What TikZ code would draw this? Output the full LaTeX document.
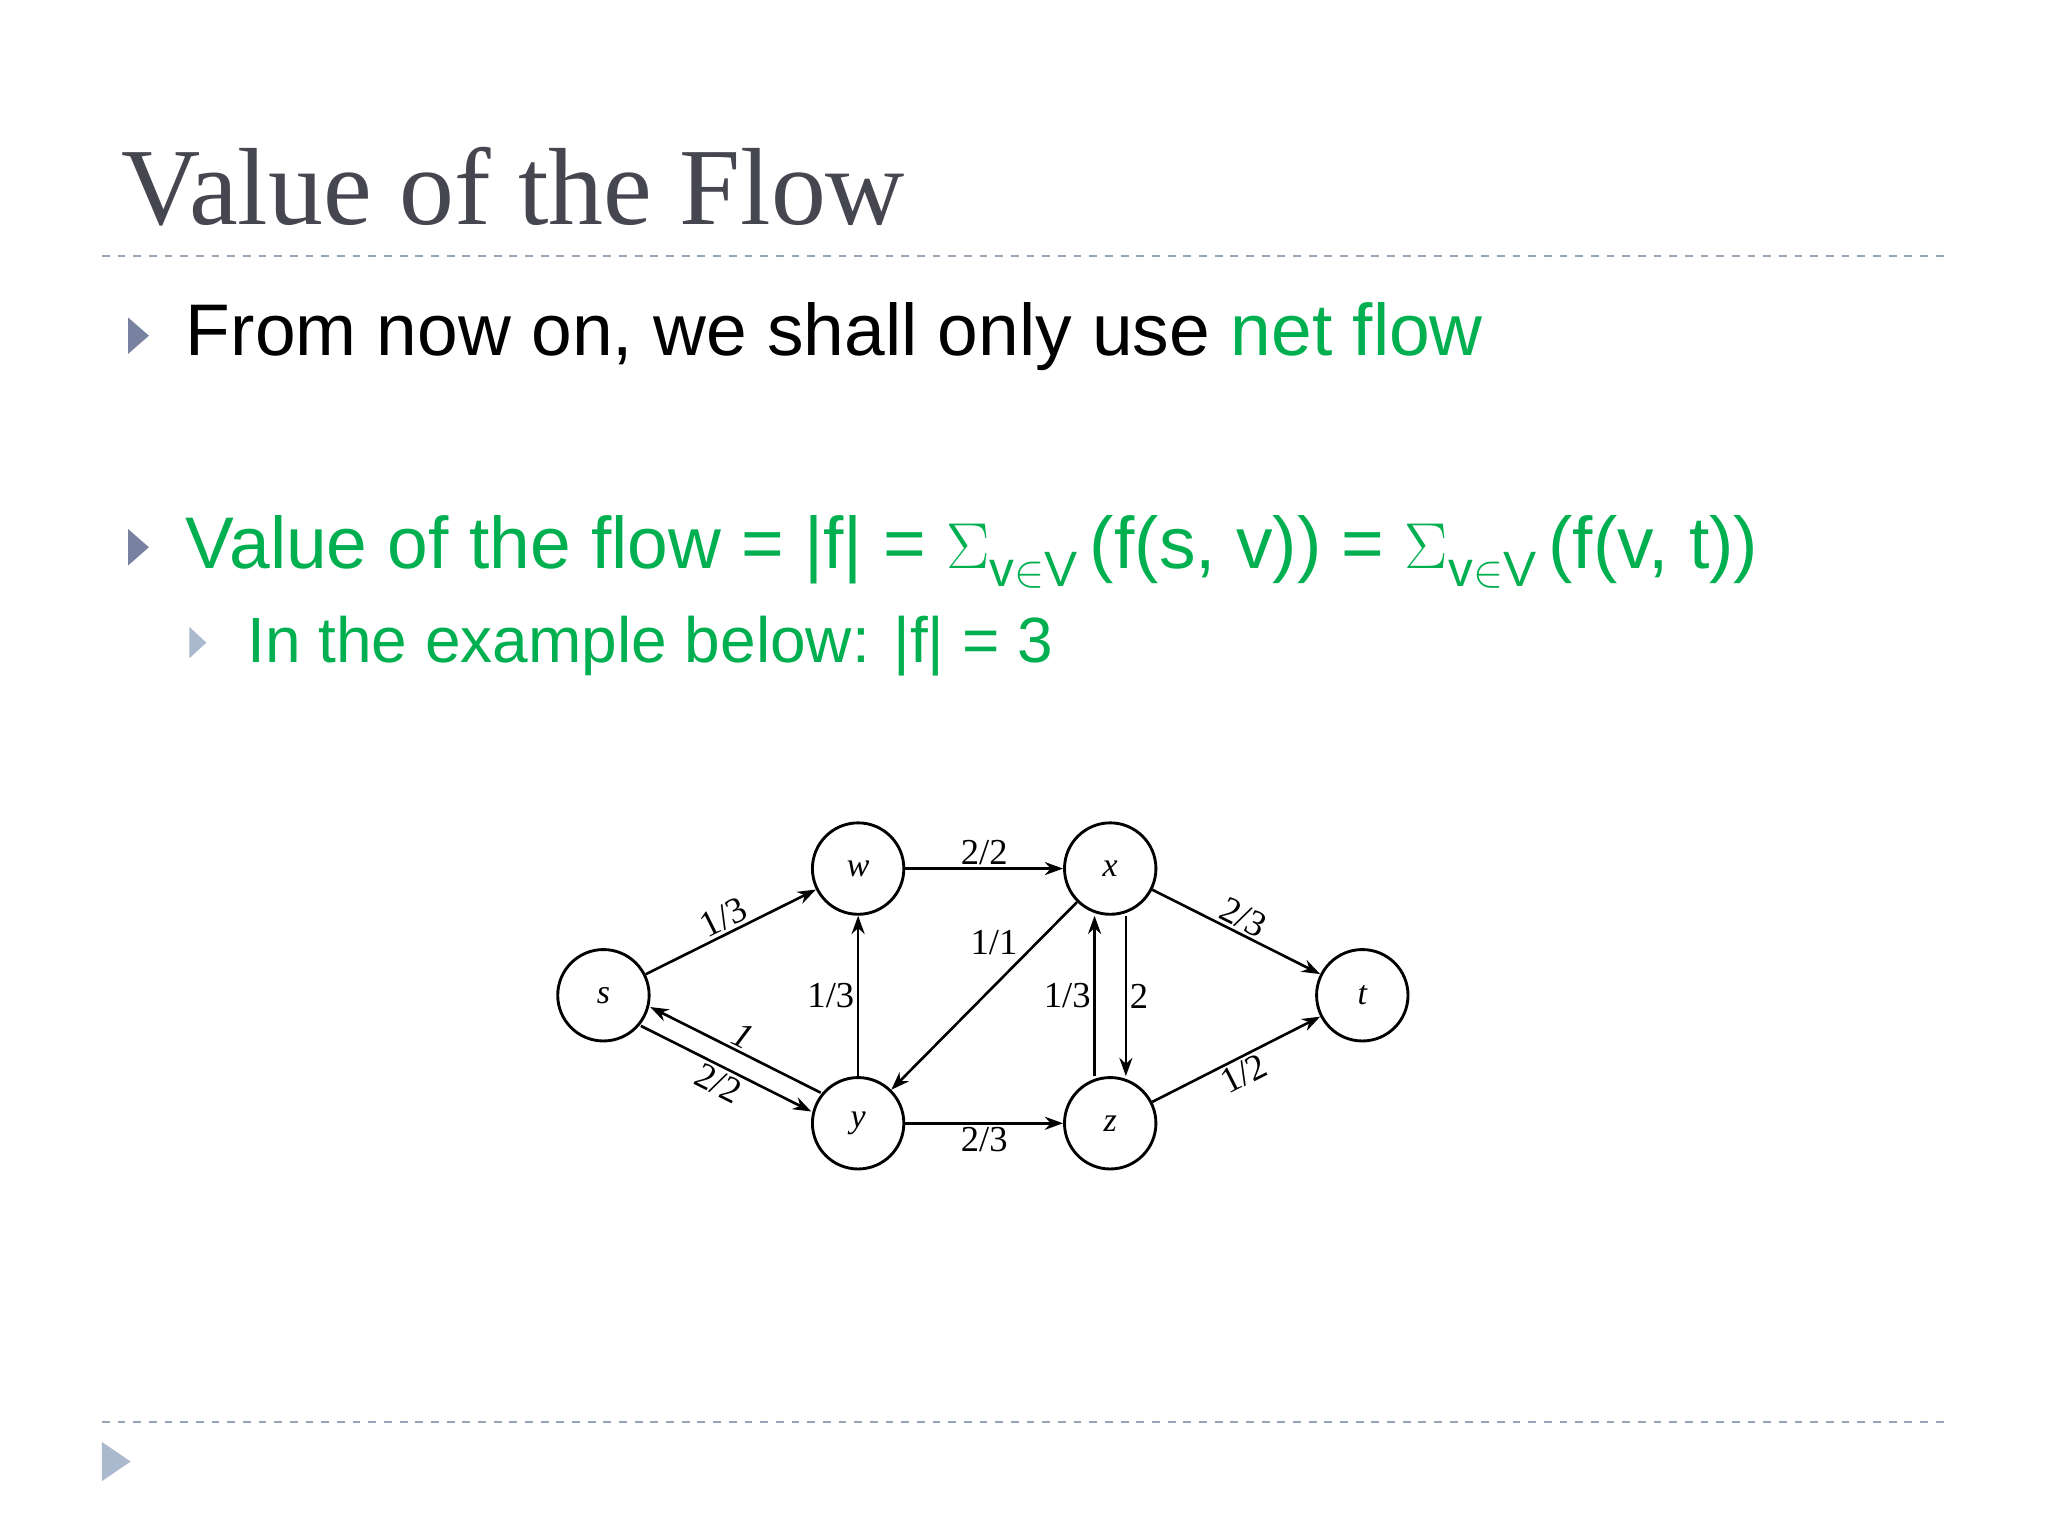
\documentclass[tikz,border=0pt]{standalone}
\usepackage{fontspec}
\setmainfont{Liberation Sans}
\newfontfamily\titlefont{Liberation Serif}
\newfontfamily\grfont{Liberation Serif}
\usetikzlibrary{arrows.meta}
\definecolor{grn}{RGB}{0,176,80}
\definecolor{ttl}{RGB}{70,70,80}
\definecolor{bul}{RGB}{120,130,160}
\definecolor{bul2}{RGB}{170,185,205}
\definecolor{dsh}{RGB}{150,165,185}
\tikzset{vtx/.style={circle,draw,line width=1.1pt,minimum size=35pt,inner sep=0pt,font=\grfont\itshape\fontsize{13}{13}\selectfont},
 edg/.style={line width=1pt,-{Stealth[length=7pt,width=5pt]}},
 lbl/.style={font=\grfont\fontsize{14}{14}\selectfont,inner sep=1pt},
 sep/.style={dsh,dashed,line width=0.8pt}}
\begin{document}
\begin{tikzpicture}[x=0.5pt,y=-0.5pt]
\useasboundingbox[fill=white] (0,0) rectangle (1568,1176);
\node[anchor=base west,inner sep=0,text=ttl,font=\titlefont\fontsize{42}{42}\selectfont] (title) at (93,172) {Value of the Flow};
\draw[sep] (78,196) -- (1490,196);
\draw[sep] (78,1089) -- (1490,1089);
\fill[bul] (98,243) -- (114,257) -- (98,271) -- cycle;
\node[anchor=base west,inner sep=0,font=\fontsize{28}{28}\selectfont] (b1) at (142,272) {From now on, we shall only use \textcolor{grn}{net flow}};
\fill[bul] (98,405) -- (114,419) -- (98,433) -- cycle;
\node[anchor=base west,inner sep=0,text=grn,font=\fontsize{28}{28}\selectfont] (b2) at (142,435) {Value of the flow = |f| = $\Sigma$\raisebox{-7pt}{\fontsize{19}{19}\selectfont v$\in$V}\,(f(s, v)) = $\Sigma$\raisebox{-7pt}{\fontsize{19}{19}\selectfont v$\in$V}\,(f(v, t))};
\fill[bul2] (145,480) -- (158,492) -- (145,504) -- cycle;
\node[anchor=base west,inner sep=0,text=grn,font=\fontsize{24.5}{24.5}\selectfont] (b3) at (189,507) {In the example below: |f| = 3};
\fill[bul2] (78,1104) -- (100,1119) -- (78,1134) -- cycle;
% graph
\node[vtx] (s) at (462,762) {s};
\node[vtx] (w) at (657,665) {w};
\node[vtx] (x) at (850,665) {x};
\node[vtx] (y) at (657,860) {y};
\node[vtx] (z) at (850,860) {z};
\node[vtx] (t) at (1043,762) {t};
\draw[edg] (s) -- node[lbl,above,sloped] {1/3} (w);
\draw[edg] (w) -- node[lbl,above] {2/2} (x);
\draw[edg] (x) -- node[lbl,above,sloped] {2/3} (t);
\draw[edg] (y) -- node[lbl,left] {1/3} (w);
\draw[edg] (x) -- node[lbl,pos=0.3,above left] {1/1} (y);
\draw[edg] ([xshift=-6pt]z.north) -- node[lbl,left] {1/3} ([xshift=-6pt]x.south);
\draw[edg] ([xshift=6pt]x.south) -- node[lbl,right] {2} ([xshift=6pt]z.north);
\begin{scope}[transform canvas={shift={(1.8pt,3.6pt)}}]
\draw[edg] (y) -- node[lbl,above,sloped,font=\grfont\itshape\fontsize{14}{14}\selectfont] {1} (s);
\end{scope}
\begin{scope}[transform canvas={shift={(-1.8pt,-3.6pt)}}]
\draw[edg] (s) -- node[lbl,below,sloped] {2/2} (y);
\end{scope}
\draw[edg] (y) -- node[lbl,below] {2/3} (z);
\draw[edg] (z) -- node[lbl,below,sloped] {1/2} (t);
\end{tikzpicture}
\end{document}
